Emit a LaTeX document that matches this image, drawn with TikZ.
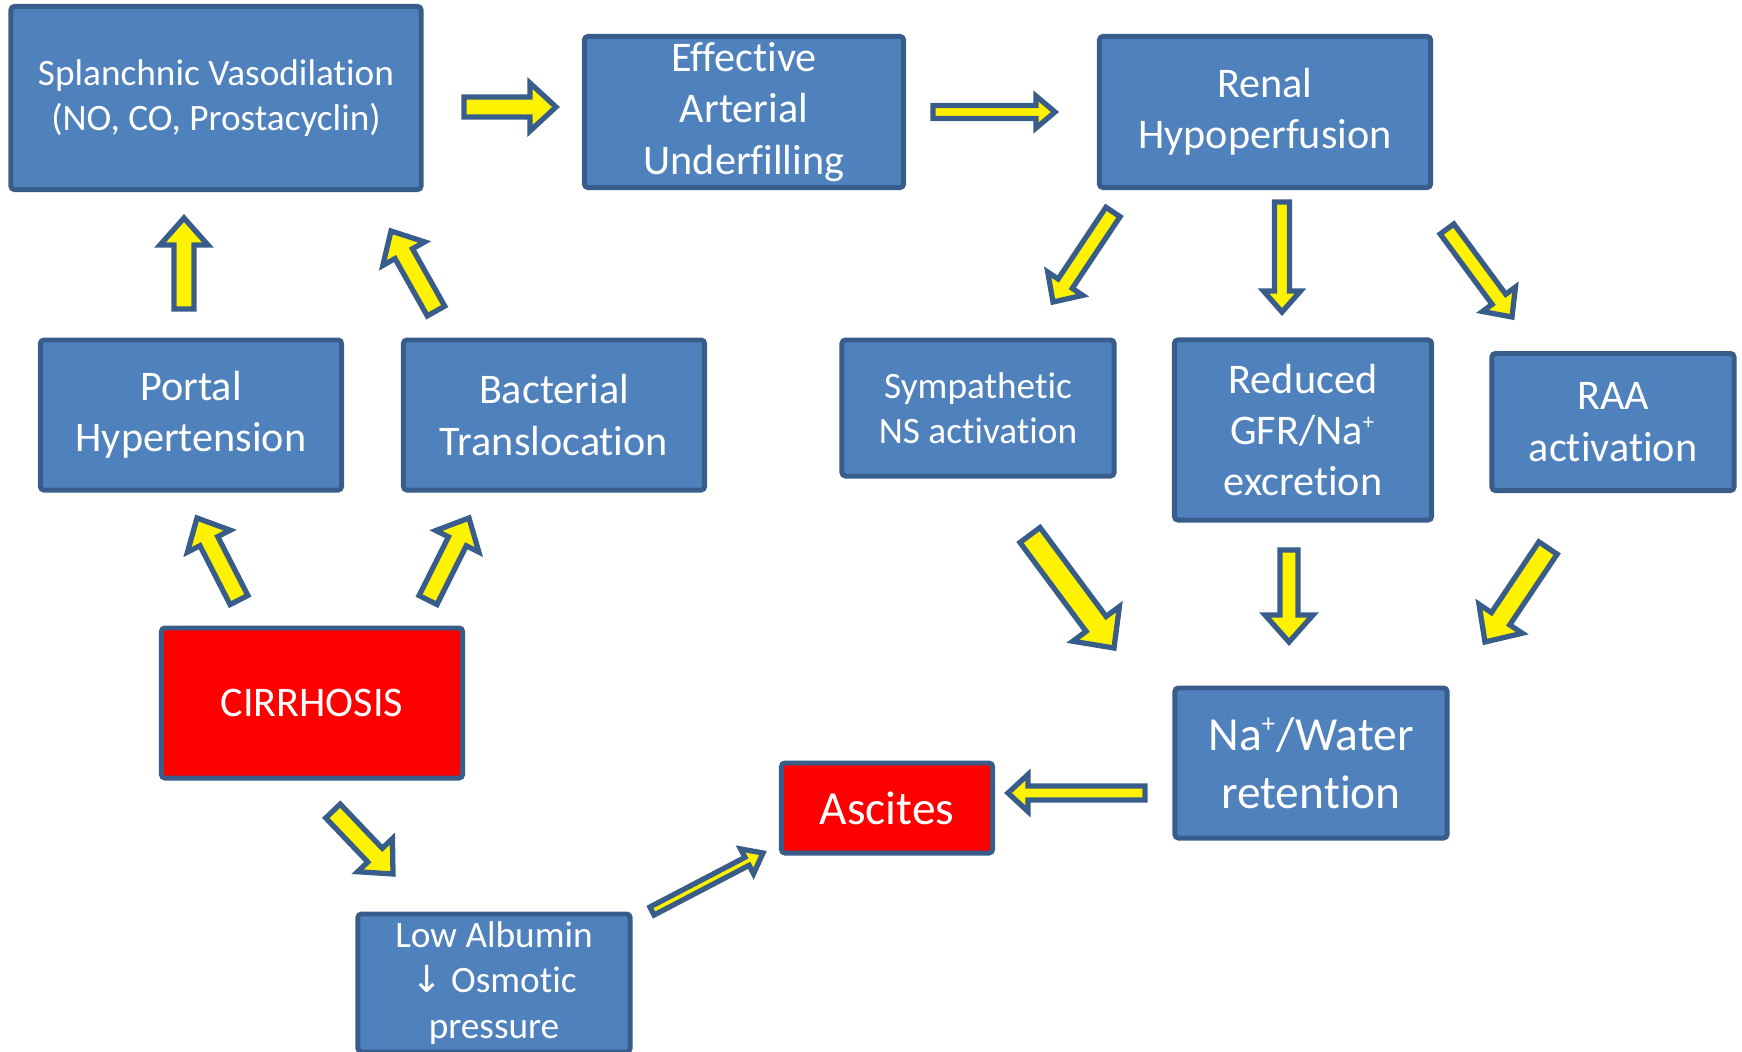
\documentclass[tikz,border=0pt]{standalone}
\usepackage{fontspec}
\setmainfont{Carlito}[Ligatures=NoCommon]
\newfontfamily\arrowfont{DejaVu Sans}
\usepackage{tikz}
\usetikzlibrary{calc}

\definecolor{boxblue}{HTML}{4F81BD}
\definecolor{edgeblue}{HTML}{385D8A}

\newcommand{\naplus}{\textsuperscript{\scalebox{0.8}{+}}}

% block arrow: tail, tip, half shaft, half head, head length
\newcommand{\fatarrow}[5]{%
  \coordinate (hb) at ($(#2)!#5!(#1)$);
  \draw[fatarrow] ($(#1)!#3!-90:(#2)$) -- ($(hb)!#3!90:(#1)$) -- ($(hb)!#4!90:(#1)$) -- (#2)
    -- ($(hb)!#4!-90:(#1)$) -- ($(hb)!#3!-90:(#1)$) -- ($(#1)!#3!90:(#2)$) -- cycle;
}

\begin{document}
\begin{tikzpicture}
	[x=0.01cm,y=-0.01cm,
	 box/.style={draw=edgeblue,fill=boxblue,line width=1.4pt,text=white,align=center,inner sep=0pt,rounded corners=1pt},
	 redbox/.style={box,fill=red},
	 small/.style={font=\fontsize{10.6}{12.9}\selectfont},
	 medium/.style={font=\fontsize{12}{14.6}\selectfont},
	 large/.style={font=\fontsize{13.5}{16.4}\selectfont},
	 fatarrow/.style={draw=edgeblue,fill=yellow,line width=1.5pt,line join=miter}];
\useasboundingbox (0,0) rectangle (1742,1051);

\node[box,small,minimum width=4.10cm,minimum height=1.83cm] (split) at (216,98) {Splanchnic Vasodilation\\(NO, CO, Prostacyclin)};
\node[box,medium,minimum width=3.19cm,minimum height=1.51cm] (eau) at (744,112) {Effective\\Arterial\\Underfilling};
\node[box,medium,minimum width=3.31cm,minimum height=1.51cm] (renal) at (1265,112) {Renal\\Hypoperfusion};
\node[box,medium,minimum width=3.01cm,minimum height=1.50cm] (portal) at (191,415) {Portal\\Hypertension};
\node[box,medium,minimum width=3.01cm,minimum height=1.50cm] (bact) at (554,415) {Bacterial\\Translocation};
\node[box,small,minimum width=2.72cm,minimum height=1.36cm] (symp) at (978,408) {Sympathetic\\NS activation};
\node[box,medium,minimum width=2.57cm,minimum height=1.80cm] (gfr) at (1303,430) {Reduced\\GFR/Na\naplus\\excretion};
\node[box,medium,minimum width=2.42cm,minimum height=1.37cm] (raa) at (1613,422) {RAA\\activation};
\node[redbox,medium,minimum width=3.01cm,minimum height=1.50cm] (cirr) at (312,703) {CIRRHOSIS};
\node[redbox,large,minimum width=2.11cm,minimum height=0.90cm] (asc) at (887,808) {Ascites};
\node[box,large,minimum width=2.72cm,minimum height=1.50cm] (water) at (1311,763) {Na\naplus/Water\\retention};
\node[box,small,minimum width=2.72cm,minimum height=1.38cm] (alb) at (494,983) {Low Albumin\\{\arrowfont ↓} Osmotic\\pressure};

% arrow ends
\coordinate (a1t) at (464,107);  \coordinate (a1h) at (556,107);
\coordinate (a2t) at (933,112);  \coordinate (a2h) at (1055,112);
\coordinate (a3t) at (184,309);  \coordinate (a3h) at (184,218);
\coordinate (a4t) at (436,311);  \coordinate (a4h) at (391,231);
\coordinate (a5t) at (239,600);  \coordinate (a5h) at (197,518);
\coordinate (a6t) at (428,600);  \coordinate (a6h) at (469,518);
\coordinate (a7t) at (333,811);  \coordinate (a7h) at (393,874);
\coordinate (a8t) at (652,911);  \coordinate (a8h) at (763,853);
\coordinate (a9t) at (1145,793); \coordinate (a9h) at (1008,793);
\coordinate (a10t) at (1113,212); \coordinate (a10h) at (1053,302);
\coordinate (a11t) at (1282,202); \coordinate (a11h) at (1282,312);
\coordinate (a12t) at (1447,229); \coordinate (a12h) at (1512,317);
\coordinate (a13t) at (1030,535); \coordinate (a13h) at (1114,648);
\coordinate (a14t) at (1289,550); \coordinate (a14h) at (1289,642);
\coordinate (a15t) at (1548,548); \coordinate (a15h) at (1485,642);

\fatarrow{a1t}{a1h}{1mm}{2.4mm}{2.6mm}
\fatarrow{a2t}{a2h}{0.65mm}{1.6mm}{1.9mm}
\fatarrow{a3t}{a3h}{1mm}{2.4mm}{2.7mm}
\fatarrow{a4t}{a4h}{1mm}{2.4mm}{2.6mm}
\fatarrow{a5t}{a5h}{1mm}{2.4mm}{2.6mm}
\fatarrow{a6t}{a6h}{1mm}{2.4mm}{2.6mm}
\fatarrow{a7t}{a7h}{1mm}{2.4mm}{2.6mm}
\fatarrow{a8t}{a8h}{0.45mm}{1.4mm}{1.8mm}
\fatarrow{a9t}{a9h}{0.7mm}{1.85mm}{2mm}
\fatarrow{a10t}{a10h}{0.85mm}{2.1mm}{2.2mm}
\fatarrow{a11t}{a11h}{0.75mm}{1.85mm}{2.1mm}
\fatarrow{a12t}{a12h}{0.85mm}{2.05mm}{2.2mm}
\fatarrow{a13t}{a13h}{1.25mm}{2.9mm}{3mm}
\fatarrow{a14t}{a14h}{0.9mm}{2.4mm}{2.7mm}
\fatarrow{a15t}{a15h}{1.1mm}{2.6mm}{2.8mm}
\end{tikzpicture}
\end{document}
